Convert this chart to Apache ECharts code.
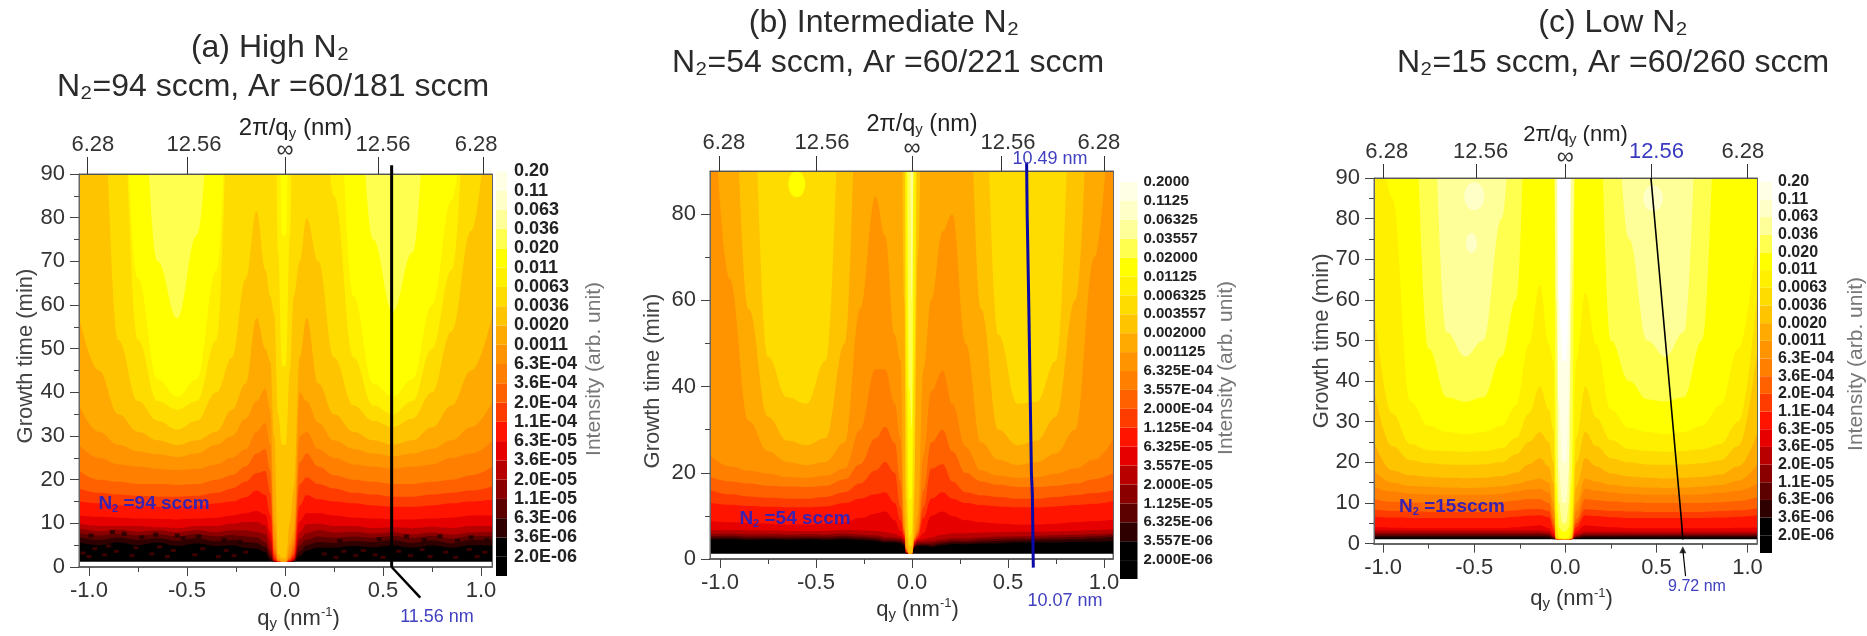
<!DOCTYPE html>
<html><head><meta charset="utf-8">
<style>html,body{margin:0;padding:0;background:#fff}#c{width:1867px;height:636px}canvas{filter:blur(.6px)}</style>
<script src="https://cdn.jsdelivr.net/npm/echarts@6/dist/echarts.min.js"></script>
</head><body><div id="c"></div>
<script>
// Contour band colours, lowest intensity first
const bandColors=['#000000','#2e0000','#5c0000','#8a0000','#b80000','#e60000','#ff1400','#ff3c00','#ff6000','#ff8000','#ff9400','#ffaa00','#ffc400','#ffdc00','#fff000','#ffff00','#ffff50','#ffff99','#ffffc8','#ffffe6','#ffffff'];
const cbLabelsAC=['2.0E-06','3.6E-06','6.3E-06','1.1E-05','2.0E-05','3.6E-05','6.3E-05','1.1E-04','2.0E-04','3.6E-04','6.3E-04','0.0011','0.0020','0.0036','0.0063','0.011','0.020','0.036','0.063','0.11','0.20'];
const cbLabelsB=['2.000E-06','3.557E-06','6.325E-06','1.125E-05','2.000E-05','3.557E-05','6.325E-05','1.125E-04','2.000E-04','3.557E-04','6.325E-04','0.001125','0.002000','0.003557','0.006325','0.01125','0.02000','0.03557','0.06325','0.1125','0.2000'];
const topLabels=['6.28','12.56','∞','12.56','6.28'];
const bottomTicks=[-1,-0.5,0,0.5,1];
const bottomMinor=[-0.75,-0.25,0.25,0.75];
const yTicksAC=[0,10,20,30,40,50,60,70,80,90];
const yMinorAC=[5,15,25,35,45,55,65,75,85];
const yTicksB=[0,20,40,60,80];
const yMinorB=[10,30,50,70];

// Panel (a): q grid, and the growth time at which each contour level is crossed at that q (120 = not reached)
const qA=[-1.05,-.95,-.85,-.75,-.65,-.55,-.45,-.35,-.27,-.2,-.145,-.1,-.075,-.055,-.035,-.015,.005,.025,.045,.075,.11,.17,.25,.35,.45,.55,.65,.75,.85,.95,1.06];
const levelsA=[
[1.2,1.2,1.2,1.2,1.2,1.2,1.2,1.2,1.2,1.2,1.2,1.2,1.2,1.2,1.2,1.2,1.2,1.2,1.2,1.2,1.2,1.2,1.2,1.2,1.2,1.2,1.2,1.2,1.2,1.2,1.2],
[5.6,5,5.6,5,5.6,4.8,5.4,4.8,5,4.4,4.2,3.4,1.5,1.2,1.2,1.2,1.2,1.2,1.2,2.5,3.8,4.4,4.4,4.8,4.5,4.9,4.4,4.9,4.4,5,4.9],
[6.8,6.2,6.7,6.2,6.6,6,6.6,5.9,6.2,5.7,5.5,4.6,2.2,1.2,1.2,1.2,1.2,1.2,1.3,3.6,5,5.7,5.5,5.9,5.7,6.1,5.5,6.1,5.4,6.2,6.1],
[7.8,7.2,7.6,7.2,7.5,7,7.5,7,7.3,7,6.8,5.6,3,1.2,1.2,1.2,1.2,1.2,1.4,5,6.3,7,6.7,7,6.7,7.1,6.7,7.1,6.5,7.1,7.1],
[8.8,8.2,8.6,8.1,8.4,7.9,8.4,8,8.4,8.4,8,7.5,4,1.3,1.2,1.2,1.2,1.2,1.5,6.4,7.8,8.4,7.9,8.1,7.7,7.9,7.5,7.9,7.4,7.9,8.1],
[9.9,9.4,9.4,9.4,9.1,8.9,9.4,9.4,9.9,10.3,10.3,9.5,6,1.4,1.2,1.2,1.2,1.2,1.7,8,9.8,9.9,9.4,9.4,8.9,9.1,8.9,9.2,8.9,9.4,9.4],
[11.8,11.5,11.3,11.1,11,10.9,11.1,11.3,11.8,12.3,12.8,12,8,1.6,1.2,1.2,1.2,1.3,2,10.5,12.3,12.3,11.8,11.3,11.1,10.9,10.9,11.1,11.3,11.8,11.8],
[15,14.6,14.1,13.9,13.8,13.8,13.9,14.6,15,16,17.5,16.5,12,2,1.2,1.2,1.2,1.5,2.5,14,16.5,15.5,15,14.6,14.1,13.8,13.8,14.1,14.6,15,15.5],
[18,17,16.6,16.3,16.1,16.1,16.3,17,18,19.5,21.5,22,17,3,1.3,1.2,1.2,1.8,3,19,20.5,19,18,17,16.6,16.1,16.1,16.6,17,17.5,18.5],
[22,20,19.5,19,19,18.8,19,20,21,23,26,27,22,4,1.4,1.2,1.2,2.2,4.5,24,26,23,21,20,19.5,19,19,19.5,20,21,23],
[28,25,23.5,23,22.5,22.2,22.5,23.5,25,27,31,33,28,6,1.6,1.2,1.2,3,6,30,31,27,25,23.5,23,22.5,23,23.5,25,26,29],
[37,31,28,26.5,25.8,25.2,26,28,30,34,38,40.9,36,10,2,1.2,1.2,5,8,40,38,33,29,27,26,25.4,26,27,29,32,38],
[57,45,35,31,29,27.9,29,31,36,42,57,50,47,30,3,2,2,10,18,48,57,42,35,31,29,28,29,32,37,45,58],
[120,120,52,38,33.5,31.5,33.5,40,48,66,81.5,68,62,58,35,28,28,45,62,70,80,70,48,37,33.5,32,34,40,54,77,120],
[120,120,120,52,38,36,38,52,120,120,120,120,120,120,72,46,46,76,120,120,120,120,85,48,37,35,38,50,68,120,120],
[120,120,120,66,43,39,43,68,120,120,120,120,120,120,120,76,76,120,120,120,120,120,120,62,42,39,43,60,84,120,120],
[120,120,120,120,70,56.9,76,120,120,120,120,120,120,120,120,120,120,120,120,120,120,120,120,120,75,58.5,72,120,120,120,120]
];
const speckDarkA=[[-.99,7.2],[-.88,8],[-.82,7.6],[-.73,6.8],[-.66,7.4],[-.55,7.2],[-.52,6.6],[-.44,7],[-.31,6.2],[-.23,5.8],[.28,6],[.48,6.4],[.62,7],[.71,6.2],[.79,7],[.88,6],[.95,6.8],[1.03,6.2]];
const speckRedA=[[-1.03,3.2],[-1,2.4],[-.97,4.2],[-.92,2.8],[-.9,4.8],[-.86,3.6],[-.78,2.6],[-.76,4.4],[-.68,3],[-.64,4.6],[-.6,2.4],[-.57,3.8],[-.46,2.8],[-.42,4.2],[-.34,2.4],[-.3,3.8],[-.26,2.6],[-.2,3.4],[.2,3],[.26,2.2],[.3,3.6],[.36,2.6],[.4,3.8],[.46,2.8],[.5,2.2],[.58,3.6],[.64,2.6],[.7,4],[.74,2.4],[.82,3.4],[.87,2.2],[.94,4],[.98,2.4],[1.02,3.4]];
const lineA=[[.544,92],[.544,0]];
const arrowA=[[.544,0],[.69,-7]];
const blobsA=[];

// Panel (b)
const qB=[-1.05,-.95,-.85,-.75,-.65,-.55,-.45,-.35,-.27,-.19,-.14,-.09,-.06,-.04,-.03,-.015,0,.012,.03,.06,.1,.16,.21,.28,.36,.45,.55,.65,.75,.85,.95,1.05];
const levelsB=[
[1.2,1.2,1.2,1.2,1.2,1.2,1.2,1.2,1.2,1.2,1.2,1.2,1.2,1.2,1.2,1.2,1.2,1.2,1.2,1.2,1.2,1.2,1.2,1.2,1.2,1.2,1.2,1.2,1.2,1.2,1.2,1.2],
[4.5,4.6,4.4,4.5,4.4,4.5,4.4,4.6,4.4,4.2,3.8,3.8,3.6,3,1.2,1.2,1.2,2.5,3,3,2.8,3.2,3.5,3.4,3.6,3.6,3.8,3.8,3.8,4,4,4.2],
[4.9,5,4.8,4.9,4.8,4.9,4.8,5,4.8,4.6,4.2,4.2,4,3.4,1.2,1.2,1.2,2.8,3.3,3.3,3.2,3.6,3.9,3.8,4,4.2,4.3,4.4,4.5,4.6,4.8,5.2],
[5.3,5.4,5.2,5.3,5.2,5.3,5.2,5.4,5.2,5,4.6,4.6,4.4,3.8,1.3,1.2,1.2,3,3.6,3.6,3.6,4,4.3,4.2,4.5,4.7,4.8,4.9,5,5.1,5.3,5.6],
[5.8,5.9,5.7,5.8,5.7,5.8,5.7,5.9,5.7,5.5,5.1,5,4.8,4.2,1.4,1.2,1.2,3.3,4,4,4.1,4.5,4.8,4.8,5,5.2,5.3,5.4,5.5,5.6,5.8,6],
[6.7,6.7,6.6,6.6,6.5,6.5,6.5,6.7,6.6,6.5,6.2,5.8,5.3,4.6,1.5,1.2,1.2,3.6,4.4,4.6,5,5.6,6,6,6.1,6.2,6.3,6.3,6.4,6.5,6.7,6.9],
[8.8,8.5,8.3,8.2,8,8,8.2,8.6,9.5,10.5,11,9,6.5,5,1.6,1.2,1.2,3.8,4.6,6,10,11,10,9,8.5,8.2,8,8,8.2,8.5,8.8,9.2],
[13,12.6,12.3,12.1,12,12,12.2,13,14,15,15.5,13,9,5.5,1.8,1.2,1.2,4,5,9.5,14,15.5,14,13,12.5,12.2,12,12,12.2,12.5,12.8,13.5],
[16,15,14.5,14.2,14,14,14.4,15.5,17.5,20.5,22.5,20,12,6,2,1.2,1.2,4.2,5.5,12,21,22,18,15.5,14.8,14.4,14,14,14.4,14.8,15.3,16],
[19,18,17.5,17,16.8,16.7,17,18.5,22,28,30.7,27,18,6.5,2.2,1.2,1.2,4.5,6,16,27,30,25,20,18,17.2,16.7,16.7,17,17.5,18.5,20],
[24,21.5,20.5,19.8,19,18.8,19.3,21,30,44,44,36,28,7,2.4,1.2,1.2,4.8,7,24,39,43.8,36,26,20.5,19.3,18.8,19,19.8,21,23,28],
[120,65,32,25,22.5,21.8,22.5,27,58,84,75,52,46,10,2.6,1.2,1.2,5,10,44,60,76,80,50,27,23,21.8,22.5,24.5,30,70,120],
[120,120,58,33,27.5,26.4,28,50,120,120,120,120,120,60,5,1.5,1.5,6,70,120,120,120,120,120,58,30,26.4,27.5,33,60,120,120],
[120,120,120,47,37.5,36,46,120,120,120,120,120,120,120,14,3,3,16,120,120,120,120,120,120,120,52,36,36.5,46,120,120,120],
[120,120,120,120,120,120,120,120,120,120,120,120,120,120,40,5,6,45,120,120,120,120,120,120,120,120,120,120,120,120,120,120],
[120,120,120,120,120,120,120,120,120,120,120,120,120,120,100,14,14,120,120,120,120,120,120,120,120,120,120,120,120,120,120,120],
[120,120,120,120,120,120,120,120,120,120,120,120,120,120,120,40,30,120,120,120,120,120,120,120,120,120,120,120,120,120,120,120],
[120,120,120,120,120,120,120,120,120,120,120,120,120,120,120,120,60,120,120,120,120,120,120,120,120,120,120,120,120,120,120,120]
];
const lineB=[[.597,92],[.6,80],[.608,60],[.615,40],[.622,20],[.627,15],[.632,-2]];
const arrowB=[];
const blobsB=[[-.6,87]];

// Panel (c)
const qC=[-1.05,-.95,-.85,-.75,-.65,-.55,-.45,-.35,-.27,-.2,-.14,-.09,-.065,-.05,-.035,-.015,.005,.02,.035,.06,.11,.17,.25,.35,.45,.55,.65,.75,.85,.95,1.06];
const levelsC=[
[1.1,1.1,1.1,1.1,1.1,1.1,1.1,1.1,1.1,1.1,1.1,1.1,1.1,1.1,1.1,1.1,1.1,1.1,1.1,1.1,1.1,1.1,1.1,1.1,1.1,1.1,1.1,1.1,1.1,1.1,1.1],
[1.5,1.5,1.5,1.5,1.5,1.5,1.5,1.5,1.5,1.5,1.5,1.4,1.1,1.1,1.1,1.1,1.1,1.1,1.1,1.3,1.5,1.5,1.5,1.5,1.5,1.5,1.5,1.5,1.5,1.5,1.5],
[1.9,1.9,1.9,1.9,1.9,1.9,1.9,1.9,1.9,1.9,1.9,1.8,1.3,1.1,1.1,1.1,1.1,1.1,1.1,1.5,1.8,1.8,1.8,1.8,1.8,1.8,1.8,1.8,1.8,1.8,1.8],
[2.3,2.3,2.3,2.3,2.3,2.3,2.3,2.3,2.3,2.3,2.3,2.2,1.5,1.1,1.1,1.1,1.1,1.1,1.1,1.7,2.1,2.1,2.1,2.1,2.1,2.1,2.1,2.1,2.1,2.1,2.1],
[2.7,2.7,2.7,2.7,2.7,2.7,2.7,2.7,2.7,2.7,2.7,2.5,1.7,1.1,1.1,1.1,1.1,1.1,1.1,2,2.5,2.5,2.5,2.5,2.5,2.5,2.5,2.5,2.5,2.5,2.5],
[3.2,3.2,3.2,3.2,3.2,3.2,3.2,3.2,3.2,3.2,3.2,3,2,1.1,1.1,1.1,1.1,1.1,1.1,2.4,3,3,3,3,3,3,3,3,3,3,3],
[4,3.9,3.8,3.8,3.8,3.8,3.8,3.8,4,4.3,4.5,3.8,2.5,1.1,1.1,1.1,1.1,1.1,1.1,3,4.5,4.3,4,3.8,3.8,3.8,3.8,3.8,3.8,3.9,4],
[6.6,6.4,6.3,6.3,6.3,6.3,6.3,6.3,6.6,6.9,7,6.5,3.5,1.1,1.1,1.1,1.1,1.1,1.1,4,7,6.8,6.5,6.3,6.3,6.3,6.3,6.3,6.4,6.6,7],
[8.4,8,7.9,7.8,7.8,7.8,7.8,7.9,8.2,8.5,8.5,8,4.5,1.1,1.1,1.1,1.1,1.1,1.1,5,8.5,8.3,8,7.9,7.8,7.8,7.8,7.8,8,8.2,8.8],
[11,10.3,10.1,10,10,10,10,10.2,10.6,11,11,10,6,1.1,1.1,1.1,1.1,1.1,1.1,6,11,10.7,10.4,10.1,10,10,10,10,10.2,10.5,11.5],
[14,12.8,12.3,12.1,12,12,12,12.3,12.8,13.3,13.5,12.5,8,1.1,1.1,1.1,1.1,1.1,1.1,8,13.5,13,12.6,12.2,12,12,12,12.1,12.5,13,15],
[18,15,14.2,14,13.8,13.7,13.8,14.1,14.7,15.5,16,15,10,1.2,1.1,1.1,1.1,1.1,1.2,10,16,15.2,14.5,14,13.8,13.7,13.8,14,14.4,15.5,20],
[25,18,16.8,16.4,16.2,16.1,16.2,16.6,17.5,19.5,21,19,15,1.3,1.1,1.1,1.1,1.1,1.3,14,21,19,17.3,16.5,16.2,16,16.2,16.4,17,19,28],
[38,24,20.5,19.8,19.5,19.4,19.5,20,22,25,27.5,25,20,1.5,1.2,1.1,1.1,1.2,1.5,20,27.5,24,21,20,19.5,19.4,19.5,19.8,20.5,24,50],
[58,32,24.5,23,22.8,22.6,22.8,23.5,26,32,38.6,33,28,4,1.3,1.2,1.2,1.3,3,26,38.6,31,25.5,23.3,22.8,22.6,22.8,23.2,24.5,30,65],
[120,85,35,29,27.5,27,27.5,29,34,49,63.7,49,45,8,1.5,1.3,1.3,1.5,6,45,61.7,49,33,28.5,27.5,27,27.5,29,34,48,80],
[120,120,120,48,36,34.9,36,46,60,120,120,120,120,15,4,3,3,4,15,120,120,120,50,40,35.5,35,36,50,120,120,120],
[120,120,120,120,52,46,50,80,120,120,120,120,120,60,10,5,5,10,60,120,120,120,120,75,50,46,52,120,120,120,120],
[120,120,120,120,120,120,120,120,120,120,120,120,120,120,18,10,10,18,120,120,120,120,120,120,120,120,120,120,120,120,120],
[120,120,120,120,120,120,120,120,120,120,120,120,120,120,35,20,20,35,120,120,120,120,120,120,120,120,120,120,120,120,120],
[120,120,120,120,120,120,120,120,120,120,120,120,120,120,60,45,45,60,120,120,120,120,120,120,120,120,120,120,120,120,120]
];
const lineC=[[.47,90],[.637,5.8],[.645,1]];
const arrowC=[[.66,-8],[.645,-1.5]];
const blobsC=[[-.5,85.5],[-.515,74],[.482,85]];

const FONT='"Liberation Sans", Arial, sans-serif';
const subRich={s:{fontFamily:FONT,fontSize:15,color:'#333',padding:[10,0,0,0],verticalAlign:'bottom'},u:{fontFamily:FONT,fontSize:13,color:'#333',padding:[0,0,9,0],verticalAlign:'top'}};

const panels=[
 {q:qA,levels:levelsA,line:lineA,arrow:arrowA,blobs:blobsA,lineColor:'#000',lineW:3,grid:[79,174,413,397],xr:[-1.051,1.056],
  yT:yTicksAC,yM:yMinorAC,topTick:[-1.01,-.5,0,.474,1.01],topLab:[-.98,-.464,0,.5,.975],topLen:17,topMargin:12,blueTop:null,
  nameX:[39,13],nameTop:[33,20],nameTopFont:24,nameLeft:[42,[0,0,0,29]],cb:[496,152,11,424],cbL:cbLabelsAC,cbFont:18,cbMargin:7,
  blob:[],blobC:'#fff',t1:['(a) High N₂',270,45],t2:['N₂=94 sccm, Ar =60/181 sccm',273,84],
  anno:[['{b|N}{bs|2}{b| =94 sccm}',154,504],['{l|11.56 nm}',437,617]],inten:[594,369]},
 {q:qB,levels:levelsB,line:lineB,arrow:arrowB,blobs:blobsB,lineColor:'#0a0aa8',lineW:3,grid:[710,171,403,388],xr:[-1.052,1.047],
  yT:yTicksB,yM:yMinorB,topTick:[-1.005,-.5,0,.467,1],topLab:[-.98,-.469,0,.5,.973],topLen:15,topMargin:11,blueTop:null,
  nameX:[38,6],nameTop:[34,21],nameTopFont:23.5,nameLeft:[46,[0,32,0,0]],cb:[1120,163,17.5,416],cbL:cbLabelsB,cbFont:15,cbMargin:6,
  blob:[[17,26]],blobC:'#ffff00',t1:['(b) Intermediate N₂',884,20],t2:['N₂=54 sccm, Ar =60/221 sccm',888,60],
  anno:[['{b|N}{bs|2}{b| =54 sccm}',795,519],['{l|10.49 nm}',1050,159],['{l|10.07 nm}',1065,601]],inten:[1226,368]},
 {q:qC,levels:levelsC,line:lineC,arrow:arrowC,blobs:blobsC,lineColor:'#000',lineW:1.6,grid:[1374,178,383,365.6],xr:[-1.05,1.052],
  yT:yTicksAC,yM:yMinorAC,topTick:[-1,-.49,0,.47,1],topLab:[-.98,-.465,0,.5,.974],topLen:14,topMargin:9,blueTop:.5,
  nameX:[43,6],nameTop:[31,20],nameTopFont:22,nameLeft:[41,[0,0,0,40]],cb:[1760,164,12,389],cbL:cbLabelsAC,cbFont:16,cbMargin:6,
  blob:[[20,28],[11,20],[20,26]],blobC:'#ffffc8',t1:['(c) Low N₂',1613,20],t2:['N₂=15 sccm, Ar =60/260 sccm',1613,60],
  anno:[['{b|N}{bs|2}{b| =15sccm}',1452,507],['{l2|9.72 nm}',1697,587]],inten:[1856,364]}
];

const annoRich={
 b:{fontFamily:FONT,fontWeight:'bold',fontSize:19,fill:'#3a22b0'},
 bs:{fontFamily:FONT,fontWeight:'bold',fontSize:11,fill:'#3a22b0',padding:[9,0,0,0]},
 l:{fontFamily:FONT,fontSize:18,fill:'#4040c0'},
 l2:{fontFamily:FONT,fontSize:16,fill:'#4040c0'}
};
const option={animation:false,grid:[],xAxis:[],yAxis:[],series:[],graphic:[],title:[]};

panels.forEach((p,pi)=>{
 const g=option.grid.length, xi=option.xAxis.length, yi=option.yAxis.length;
 const [l,t,w,h]=p.grid;
 option.grid.push({left:l,top:t,width:w,height:h,show:true,backgroundColor:'#fff',borderColor:'#666',borderWidth:1});
 const base={type:'value',gridIndex:g,min:p.xr[0],max:p.xr[1],splitLine:{show:false},z:5,nameMoveOverlap:false};
 option.xAxis.push({...base,position:'bottom',name:'q{s|y} (nm{u|-1})',nameLocation:'middle',nameGap:p.nameX[0],
   nameTextStyle:{fontFamily:FONT,fontSize:22,color:'#333',padding:[0,0,0,p.nameX[1]*2],rich:subRich},
   axisLine:{show:true,onZero:false,lineStyle:{color:'#666',width:2}},axisTick:{show:true,length:9,lineStyle:{color:'#444'},customValues:bottomTicks},
   axisLabel:{show:true,fontFamily:FONT,fontSize:22,color:'#333',margin:13,customValues:bottomTicks,formatter:v=>Number(v).toFixed(1)}});
 option.xAxis.push({...base,position:'bottom',axisLine:{show:false,onZero:false},axisTick:{show:true,length:5,lineStyle:{color:'#444'},customValues:bottomMinor},axisLabel:{show:false}});
 option.xAxis.push({...base,position:'top',name:'2π/q{s|y} (nm)',nameLocation:'middle',nameGap:p.nameTop[0],
   nameTextStyle:{fontFamily:FONT,fontSize:p.nameTopFont,color:'#222',padding:[0,0,0,p.nameTop[1]],rich:subRich},
   axisLine:{show:true,onZero:false,lineStyle:{color:'#555',width:1}},axisTick:{show:true,length:p.topLen,lineStyle:{color:'#333'},customValues:p.topTick},
   axisLabel:{show:true,fontFamily:FONT,fontSize:22,margin:p.topMargin,customValues:p.topLab,
     color:v=>(p.blueTop!==null&&Number(v)===p.blueTop)?'#3a3ac0':'#333',
     formatter:v=>{const s=topLabels[p.topLab.indexOf(Number(v))];return s==='∞'?'{inf|∞}':s+'\n{gap| }';},
     rich:{inf:{fontFamily:FONT,fontSize:24,color:'#333'},gap:{fontSize:1,lineHeight:6}}}});
 const ybase={type:'value',gridIndex:g,min:0,max:90,splitLine:{show:false},z:5,nameMoveOverlap:false};
 option.yAxis.push({...ybase,position:'left',name:'Growth time (min)',nameLocation:'middle',nameGap:p.nameLeft[0],
   nameTextStyle:{fontFamily:FONT,fontSize:22,color:'#444',padding:p.nameLeft[1]},
   axisLine:{show:true,onZero:false,lineStyle:{color:'#666',width:1}},axisTick:{show:true,length:9,lineStyle:{color:'#444'},customValues:p.yT},
   axisLabel:{show:true,fontFamily:FONT,fontSize:22,color:'#333',margin:14,customValues:p.yT}});
 option.yAxis.push({...ybase,position:'left',axisLine:{show:false,onZero:false},axisTick:{show:true,length:5,lineStyle:{color:'#444'},customValues:p.yM},axisLabel:{show:false}});
 option.yAxis.push({...ybase,position:'right',axisLine:{show:true,onZero:false,lineStyle:{color:'#666',width:1}},axisTick:{show:false},axisLabel:{show:false}});

 p.levels.forEach((row,i)=>{
  option.series.push({type:'line',xAxisIndex:xi,yAxisIndex:yi,silent:true,symbol:'none',smooth:.4,smoothMonotone:'x',
    lineStyle:{width:0},areaStyle:{origin:'end',color:bandColors[i],opacity:1},z:2,
    data:p.q.map((x,k)=>[x,row[k]])});
 });
 p.blobs.forEach((b,k)=>option.series.push({type:'scatter',xAxisIndex:xi,yAxisIndex:yi,silent:true,symbol:'circle',symbolSize:p.blob[k],itemStyle:{color:p.blobC,opacity:1},z:2,data:[b]}));
 if(pi===0){
  option.series.push({type:'scatter',xAxisIndex:xi,yAxisIndex:yi,silent:true,symbol:'rect',symbolSize:[5,4],itemStyle:{color:'#200000'},z:2,data:speckDarkA});
  option.series.push({type:'scatter',xAxisIndex:xi,yAxisIndex:yi,silent:true,symbol:'rect',symbolSize:[5,3],itemStyle:{color:'#4e0000'},z:2,data:speckRedA});
 }
 option.series.push({type:'line',xAxisIndex:xi,yAxisIndex:yi,silent:true,symbol:'none',clip:false,lineStyle:{color:p.lineColor,width:p.lineW},z:6,data:p.line});
 if(p.arrow.length)option.series.push({type:'line',xAxisIndex:xi,yAxisIndex:yi,silent:true,symbol:'none',clip:false,lineStyle:{color:'#000',width:pi===2?1.2:2.5},z:6,data:p.arrow});
 if(pi===2)option.series.push({type:'scatter',xAxisIndex:xi,yAxisIndex:yi,silent:true,clip:false,symbol:'triangle',symbolSize:7,itemStyle:{color:'#000'},z:6,data:[p.arrow[1]]});

 // colour bar
 const cg=option.grid.length, cx=option.xAxis.length, cy=option.yAxis.length;
 const [bl,bt,bw,bh]=p.cb;
 option.grid.push({left:bl,top:bt,width:bw,height:bh});
 option.xAxis.push({type:'category',gridIndex:cg,data:['c'],show:false});
 const cbVals=p.cbL.map((_,i)=>i+1);
 option.yAxis.push({type:'value',gridIndex:cg,min:0,max:22,position:'right',splitLine:{show:false},axisLine:{show:false,onZero:false},axisTick:{show:false},
   axisLabel:{show:true,fontFamily:FONT,fontWeight:'bold',fontSize:p.cbFont,color:'#222',margin:p.cbMargin,customValues:cbVals,formatter:v=>p.cbL[Number(v)-1]||''}});
 ['#000000',...bandColors].forEach(c=>option.series.push({type:'bar',xAxisIndex:cx,yAxisIndex:cy,stack:'cb'+cg,silent:true,barWidth:'100%',itemStyle:{color:c},data:[1]}));

 // text
 const titleStyle={fontFamily:FONT,fontSize:32,fontWeight:'normal',color:'#2a2a2a'};
 [p.t1,p.t2].forEach(tt=>option.title.push({text:tt[0],left:tt[1],top:tt[2]-13,textAlign:'center',padding:0,textStyle:titleStyle}));
 p.anno.forEach(a=>option.graphic.push({type:'text',x:a[1],y:a[2],z:20,style:{text:a[0],align:'center',verticalAlign:'middle',rich:annoRich}}));
 option.graphic.push({type:'text',x:p.inten[0],y:p.inten[1],rotation:Math.PI/2,z:20,style:{text:'Intensity (arb. unit)',align:'center',verticalAlign:'middle',fontFamily:FONT,fontSize:21,fill:'#777'}});
});
echarts.init(document.getElementById('c'),null,{renderer:'canvas'}).setOption(option);
</script></body></html>
